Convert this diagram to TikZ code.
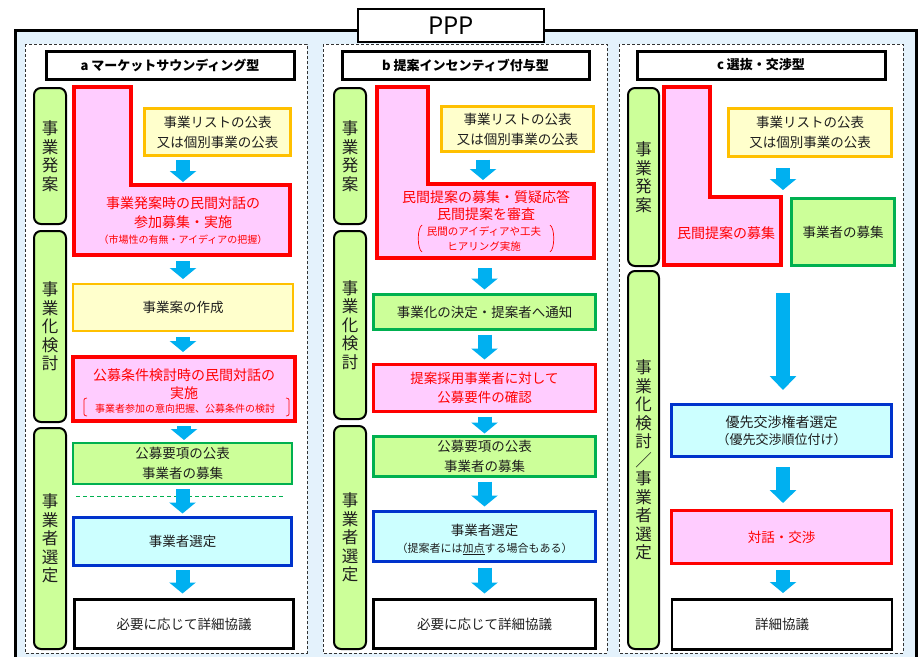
\documentclass[tikz,border=0pt]{standalone}
\usepackage{fontspec}
\setmainfont{Noto Sans CJK JP}
\usetikzlibrary{arrows.meta}
\definecolor{bgblue}{RGB}{228,242,252}
\definecolor{pfill}{RGB}{255,204,255}
\definecolor{yfill}{RGB}{255,255,204}
\definecolor{yline}{RGB}{255,192,0}
\definecolor{gfill}{RGB}{204,255,153}
\definecolor{gline}{RGB}{0,176,80}
\definecolor{bfill}{RGB}{204,255,255}
\definecolor{bline}{RGB}{0,51,204}
\definecolor{arr}{RGB}{0,176,240}
\definecolor{txt}{RGB}{30,30,30}
\begin{document}
\begin{tikzpicture}[x=1pt,y=-1pt,
  bx/.style={inner sep=0pt, outer sep=0pt, align=center, text=txt, font=\fontsize{13.5}{20}\selectfont},
  ybox/.style={bx, draw=yline, fill=yfill, line width=2.5pt},
  gbox/.style={bx, draw=gline, fill=gfill, line width=2.5pt},
  bluebox/.style={bx, draw=bline, fill=bfill, line width=3pt},
  wbox/.style={bx, draw=black, fill=white, line width=2.5pt},
  pbox/.style={bx, draw=red, fill=pfill, line width=3.5pt, text=red},
  tbox/.style={bx, draw=black, fill=white, line width=3pt, font=\bfseries\fontsize{13}{15}\selectfont, text=black},
  sbar/.style={bx, draw=black, fill=gfill, line width=2pt, rounded corners=7pt, font=\fontsize{16.5}{18.5}\selectfont},
  lshape/.style={draw=red, fill=pfill, line width=3.5pt},
  tx/.style={inner sep=0pt, align=center, text=txt, font=\fontsize{13.5}{19}\selectfont},
  rtx/.style={tx, text=red, font=\fontsize{14}{19}\selectfont},
  smalltxt/.style={tx, text=red, font=\fontsize{10}{15}\selectfont},
  brk/.style={draw=red, line width=0.7pt},
  colbox/.style={draw=black!80, fill=white, line width=0.8pt, dash pattern=on 3pt off 2pt},
  barrow/.style={draw=arr, line width=14pt, -{Triangle[length=11pt,width=26pt]}},
]
\useasboundingbox (0,0) rectangle (920,656);
\clip (0,0) rectangle (920,656);
% outer frame
\draw[line width=3pt, fill=bgblue] (15,30) rectangle (916,690);
\node[bx, draw=black, fill=white, line width=2.5pt, minimum width=186pt, minimum height=33pt, text=black, font=\fontsize{24}{28}\selectfont] (ppp) at (451,25.5) {PPP};
% columns
\draw[colbox] (25,44) rectangle (307,653);
\draw[colbox] (323,44) rectangle (607,653);
\draw[colbox] (619,44) rectangle (903,653);
% titles
\node[tbox, minimum width=248pt, minimum height=28pt] (ta) at (170,65) {a マーケットサウンディング型};
\node[tbox, minimum width=247pt, minimum height=28pt] (tb) at (465.5,65) {b 提案インセンティブ付与型};
\node[tbox, minimum width=248pt, minimum height=28pt] (tc) at (761,65) {c 選抜・交渉型};
% side bars
\node[sbar, minimum width=32pt, minimum height=136pt] (sa1) at (50,156) {事\\業\\発\\案};
\node[sbar, minimum width=32pt, minimum height=191pt] (sa2) at (50,326.5) {事\\業\\化\\検\\討};
\node[sbar, minimum width=32pt, minimum height=221pt] (sa3) at (50,538.5) {事\\業\\者\\選\\定};
\node[sbar, minimum width=32pt, minimum height=136pt] (sb1) at (350,156) {事\\業\\発\\案};
\node[sbar, minimum width=32pt, minimum height=188pt] (sb2) at (350,325) {事\\業\\化\\検\\討};
\node[sbar, minimum width=32pt, minimum height=223pt] (sb3) at (350,537.5) {事\\業\\者\\選\\定};
\node[sbar, minimum width=31pt, minimum height=178pt] (sc1) at (643.5,177) {事\\業\\発\\案};
\node[sbar, minimum width=31pt, minimum height=378pt] (sc2) at (643.5,460) {事\\業\\化\\検\\討\\／\\事\\業\\者\\選\\定};
% ---------- column a ----------
\draw[lshape] (74,87) -- (131,87) -- (131,185) -- (290,185) -- (290,255) -- (74,255) -- cycle;
\coordinate (La) at (183,185);
\coordinate (Lab) at (183,255);
\node[ybox, minimum width=146pt, minimum height=47pt] (ya1) at (217.5,132) {事業リストの公表\\又は個別事業の公表};
\node[rtx] (pa1) at (183,212.5) {事業発案時の民間対話の\\参加募集・実施};
\node[smalltxt] (pa2) at (183,240) {（市場性の有無・アイディアの把握）};
\node[ybox, minimum width=220pt, minimum height=47pt] (ya2) at (183,307.5) {事業案の作成};
\node[pbox, minimum width=222pt, minimum height=64pt] (pa3) at (184,389) {};
\node[rtx, font=\fontsize{14}{18}\selectfont] (pa3t) at (184,384) {公募条件検討時の民間対話の\\実施};
\node[smalltxt] (pa3s) at (185,409) {事業者参加の意向把握、公募条件の検討};
\draw[brk] (87,398) .. controls (83,398) and (84,401) .. (84,404) -- (84,410) .. controls (84,413) and (83,416) .. (87,416);
\draw[brk] (286,398) .. controls (290,398) and (289,401) .. (289,404) -- (289,410) .. controls (289,413) and (290,416) .. (286,416);
\node[gbox, minimum width=219pt, minimum height=41pt] (ga4) at (182.5,463.5) {公募要項の公表\\事業者の募集};
\node[bluebox, minimum width=218pt, minimum height=48pt] (ba5) at (182.5,541.5) {事業者選定};
\node[wbox, minimum width=219pt, minimum height=49pt] (wa6) at (184,624) {必要に応じて詳細協議};
\draw[gline, line width=1pt, dash pattern=on 4pt off 3pt] (76,496) -- (285,496);
\draw[barrow, shorten <=4.5pt, shorten >=3pt] (La |- ya1.south) -- (La);
\draw[barrow, shorten <=6pt, shorten >=5pt] (Lab) -- (Lab |- ya2.north);
\draw[barrow, shorten <=6pt, shorten >=5pt] (ya2.south) -- (ya2.south |- pa3.north);
\draw[barrow, shorten <=5pt, shorten >=3pt] (pa3.south) -- (pa3.south |- ga4.north);
\draw[barrow, shorten <=5pt, shorten >=4pt] (ga4.south) -- (ga4.south |- ba5.north);
\draw[barrow, shorten <=4.5pt, shorten >=6pt] (ba5.south) -- (ba5.south |- wa6.north);
% ---------- column b ----------
\draw[lshape] (377,87) -- (428,87) -- (428,184) -- (594,184) -- (594,258) -- (377,258) -- cycle;
\coordinate (Lb) at (483,184);
\coordinate (Lbb) at (484.5,258);
\node[ybox, minimum width=152pt, minimum height=45pt] (yb1) at (517.5,129) {事業リストの公表\\又は個別事業の公表};
\node[rtx, font=\fontsize{14}{17}\selectfont] (pb1) at (486,205.5) {民間提案の募集・質疑応答\\民間提案を審査};
\node[smalltxt, font=\fontsize{10.5}{15}\selectfont] (pb2) at (484,238.5) {民間のアイディアや工夫\\ヒアリング実施};
\draw[brk] (422,225) .. controls (417,228) and (417,249) .. (422,252);
\draw[brk] (550,225) .. controls (555,228) and (555,249) .. (550,252);
\node[gbox, minimum width=222pt, minimum height=35pt] (gb2) at (484.5,312) {事業化の決定・提案者へ通知};
\node[pbox, minimum width=222pt, minimum height=47pt, font=\fontsize{13.5}{19}\selectfont] (pb3) at (484.5,388) {提案採用事業者に対して\\公募要件の確認};
\node[gbox, minimum width=222pt, minimum height=40pt] (gb4) at (484.5,456.5) {公募要項の公表\\事業者の募集};
\node[bluebox, minimum width=222pt, minimum height=50pt] (bb5) at (484.5,536.5) {};
\node[tx] (bb5a) at (484.5,530) {事業者選定};
\node[tx, font=\fontsize{11}{14}\selectfont] (bb5b) at (484.5,549) {（提案者には\underline{加点}する場合もある）};
\node[wbox, minimum width=222pt, minimum height=49pt] (wb6) at (484.5,624) {必要に応じて詳細協議};
\draw[barrow, shorten <=8pt, shorten >=4pt] (Lb |- yb1.south) -- (Lb);
\draw[barrow, shorten <=10pt, shorten >=5pt] (Lbb) -- (Lbb |- gb2.north);
\draw[barrow, shorten <=5pt, shorten >=5pt] (gb2.south) -- (gb2.south |- pb3.north);
\draw[barrow, shorten <=5pt, shorten >=3pt] (pb3.south) -- (pb3.south |- gb4.north);
\draw[barrow, shorten <=5pt, shorten >=5pt] (gb4.south) -- (gb4.south |- bb5.north);
\draw[barrow, shorten <=6pt, shorten >=6pt] (bb5.south) -- (bb5.south |- wb6.north);
% ---------- column c ----------
\draw[lshape] (664,87) -- (710,87) -- (710,197) -- (781,197) -- (781,265) -- (664,265) -- cycle;
\coordinate (Lc) at (783,197);
\coordinate (Lcb) at (783,265);
\node[ybox, minimum width=163pt, minimum height=48pt] (yc1) at (810,132.5) {事業リストの公表\\又は個別事業の公表};
\node[gbox, minimum width=103pt, minimum height=67pt] (gc2) at (843,232) {事業者の募集};
\node[rtx] (pc1) at (726,233) {民間提案の募集};
\node[bluebox, minimum width=220pt, minimum height=52pt] (bc3) at (781.5,430.5) {};
\node[tx, font=\fontsize{14}{18}\selectfont] (bc3a) at (781.5,422) {優先交渉権者選定};
\node[tx, font=\fontsize{13}{18}\selectfont] (bc3b) at (781.5,440) {（優先交渉順位付け）};
\node[pbox, minimum width=220pt, minimum height=53pt] (pc4) at (781.5,537) {対話・交渉};
\node[wbox, minimum width=220pt, minimum height=50pt] (wc5) at (782,624.5) {詳細協議};
\draw[barrow, shorten <=11.5pt, shorten >=7pt] (Lc |- yc1.south) -- (Lc);
\draw[barrow, -{Triangle[length=14pt,width=26pt]}, shorten <=28pt, shorten >=14.5pt] (Lcb) -- (Lcb |- bc3.north);
\draw[barrow, -{Triangle[length=13pt,width=26pt]}, shorten <=10.5pt, shorten >=7.5pt] (Lcb |- bc3.south) -- (Lcb |- pc4.north);
\draw[barrow, shorten <=6.5pt, shorten >=6.5pt] (Lcb |- pc4.south) -- (Lcb |- wc5.north);
\end{tikzpicture}
\end{document}
